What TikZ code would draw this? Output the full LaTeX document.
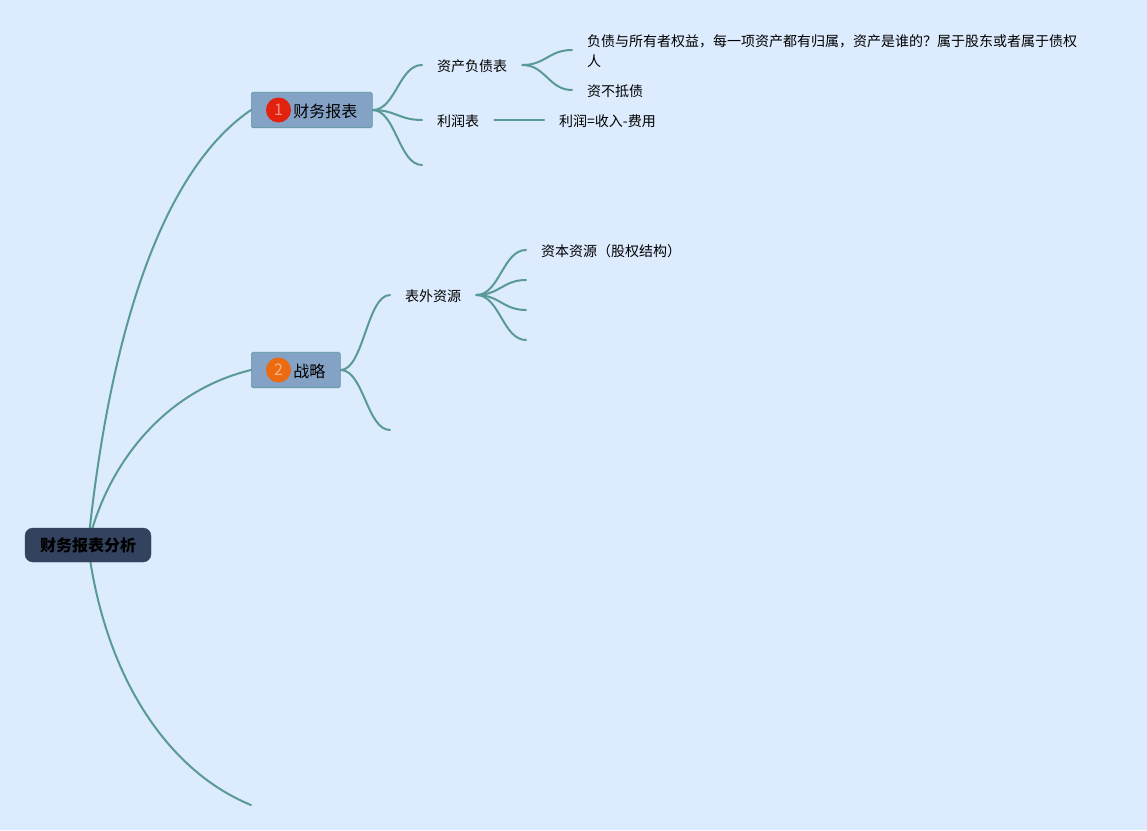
\documentclass[tikz,border=0pt]{standalone}
\usepackage{fontspec}
\setmainfont{Noto Sans CJK SC}
\definecolor{bgc}{HTML}{DCEBFD}
\definecolor{linkc}{HTML}{5A9A96}
\definecolor{topicc}{HTML}{84A2C6}
\definecolor{rootc}{HTML}{33435F}
\definecolor{badgered}{HTML}{E3210F}
\definecolor{badgeorange}{HTML}{EC6A10}
\tikzset{
  rootbox/.style={draw=rootc,fill=rootc,rounded corners=8pt,minimum width=126pt,minimum height=34pt,inner sep=0pt,font=\fontsize{16}{20}\selectfont\bfseries,text=black},
  topicbox/.style={draw=linkc,line width=0.6pt,fill=topicc,rounded corners=1.5pt,minimum height=35.5pt,inner xsep=15pt,inner ysep=0pt,text height=15pt,text depth=1pt,font=\fontsize{16}{20}\selectfont,text=black,anchor=west},
  badge/.style={circle,minimum size=25pt,inner sep=0pt,font=\fontsize{16}{16}\selectfont,text=white,text opacity=0.5},
  leaf/.style={inner xsep=15pt,inner ysep=2pt,text height=14pt,text depth=2pt,font=\fontsize{14}{20}\selectfont,text=black,anchor=west},
  longleaf/.style={inner xsep=15pt,inner ysep=2pt,font=\fontsize{14}{20}\selectfont,text=black,anchor=west,align=left},
  link/.style={draw=linkc,line width=2pt,line cap=round},
}
\newcommand{\branch}[3][23]{\draw[link] (#2) .. controls +(#1,0) and +(-#1,0) .. (#3);}
\begin{document}
\begin{tikzpicture}[x=1pt,y=-1pt]
\useasboundingbox (0,0) rectangle (1147,830);
\fill[bgc] (0,0) rectangle (1147,830);
% nodes
\node[topicbox] (fin) at (251,110) {\hspace*{27pt}财务报表};
\node[topicbox] (str) at (251,370) {\hspace*{27pt}战略};
\node[leaf] (bs) at (422,65) {资产负债表};
\node[leaf] (pl) at (422,120) {利润表};
\coordinate (blank1) at (422,165);
\node[longleaf] (own) at (572,51) {负债与所有者权益，每一项资产都有归属，资产是谁的？属于股东或者属于债权\\[0.6pt]人};
\coordinate (ownlink) at (572,50);
\node[leaf] (ins) at (572,90) {资不抵债};
\node[leaf] (prof) at (544,120) {利润=收入-费用};
\node[leaf] (off) at (390,295) {表外资源};
\coordinate (blank2) at (390,430);
\node[leaf] (cap) at (526,250) {资本资源（股权结构）};
\coordinate (blank3) at (526,280);
\coordinate (blank4) at (526,310);
\coordinate (blank5) at (526,340);
\coordinate (blank6) at (251,805);
\coordinate (rootc0) at (88,545);
% connectors
\draw[link] (rootc0) .. controls (112,310) and (170,165) .. (fin.west);
\draw[link] (rootc0) .. controls (105,470) and (160,392) .. (str.west);
\draw[link] (rootc0) .. controls (105,680) and (170,772) .. (blank6);
\branch{fin.east}{bs.west}
\branch{fin.east}{pl.west}
\branch{fin.east}{blank1}
\branch{bs.east}{ownlink}
\branch{bs.east}{ins.west}
\draw[link] (pl.east) -- (prof.west);
\branch{str.east}{off.west}
\branch{str.east}{blank2}
\branch{off.east}{cap.west}
\branch{off.east}{blank3}
\branch{off.east}{blank4}
\branch{off.east}{blank5}
\node[rootbox] (root) at (88,545) {财务报表分析};
\node[badge,fill=badgered] (b1) at (278.5,110) {1};
\node[badge,fill=badgeorange] (b2) at (278.5,370) {2};
\end{tikzpicture}
\end{document}
